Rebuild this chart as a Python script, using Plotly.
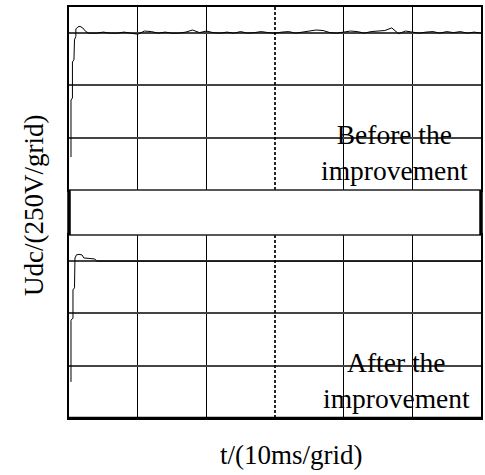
import plotly.graph_objects as go

# ---- data (time in ms, voltage in grid units of 250 V) ----
top_t = [0.29, 0.29, 0.5, 0.5, 0.72, 0.8, 1.0, 1.0, 1.3, 1.6, 2.0, 2.45, 2.9,
         3, 4, 5, 6, 7, 8, 9, 10, 11, 12, 13, 14, 15, 16, 17, 18, 19, 20, 21, 22,
         23, 24, 25, 26, 27, 28, 29, 30, 31, 32, 33, 34, 35, 36, 37, 38, 39, 40,
         41, 42, 43, 44, 45, 46, 47, 48, 49, 50, 51, 52, 53, 54, 55, 56, 57, 58, 59, 60]
top_v = [0.63, 1.72, 1.76, 2.45, 2.49, 2.87, 2.94, 3.08, 3.12, 3.13, 3.10, 3.03, 3.00,
         3.00, 3.00, 3.02, 3.00, 3.00, 3.02, 3.00, 2.98, 3.04, 3.03, 3.00, 3.02, 3.00, 3.00, 3.02, 3.06, 3.01, 3.04, 3.01, 3.00,
         3.02, 3.00, 3.03, 3.00, 3.01, 3.03, 3.01, 3.00, 3.02, 3.03, 3.00, 3.02, 3.04, 3.06, 3.05, 3.01, 3.00, 3.02,
         3.04, 3.03, 3.00, 3.03, 3.04, 3.05, 3.10, 2.99, 3.04, 3.02, 3.00, 3.02, 3.03, 3.00, 3.03, 3.01, 3.03, 3.00, 3.02, 3.00]

bot_t = [0.29, 0.29, 0.58, 0.58, 0.8, 0.87, 1.09, 1.45, 1.88, 2.17, 3.04, 3.77, 4.06, 60]
bot_v = [0.69, 1.87, 1.91, 2.45, 2.49, 3.06, 3.12, 3.13, 3.12, 3.06, 3.05, 3.04, 3.00, 3.00]

t_grid = [10, 20, 40, 50]
v_grid = [1, 2, 3]
cursor_t = 30
t_range = [0, 60]
v_range = [0, 3.5]

label_top = "Before the<br>improvement"
label_bot = "After the<br>improvement"
x_title = "t/(10ms/grid)"
y_title = "Udc/(250V/grid)"

FONT = "Liberation Serif, Times New Roman, serif"

fig = go.Figure()
fig.add_trace(go.Scatter(x=top_t, y=top_v, mode="lines", xaxis="x", yaxis="y2",
                         line=dict(color="black", width=1), showlegend=False, hoverinfo="skip"))
fig.add_trace(go.Scatter(x=bot_t, y=bot_v, mode="lines", xaxis="x2", yaxis="y",
                         line=dict(color="black", width=1), showlegend=False, hoverinfo="skip"))

top_dom = [0.5547, 1.0]
bot_dom = [0.0, 0.4453]

xcommon = dict(range=t_range, tickvals=t_grid, showticklabels=False, ticks="",
               showgrid=True, gridcolor="black", gridwidth=1, zeroline=False,
               showline=True, linecolor="black", linewidth=1.5, mirror=True, fixedrange=True)
ycommon = dict(range=v_range, tickvals=v_grid, showticklabels=False, ticks="",
               showgrid=True, gridcolor="#444", gridwidth=1.5, zeroline=False,
               showline=True, linecolor="black", linewidth=1.5, mirror=True, fixedrange=True)

fig.update_layout(
    width=485, height=475,
    margin=dict(l=69, r=2, t=7, b=57),
    paper_bgcolor="white", plot_bgcolor="white",
    xaxis=dict(**xcommon, anchor="y2"),
    xaxis2=dict(**xcommon, anchor="y"),
    yaxis=dict(**ycommon, domain=bot_dom, anchor="x2"),
    yaxis2=dict(**ycommon, domain=top_dom, anchor="x"),
)

# dashed cursor line at 30 ms in both panels
for xr, yr in (("x", "y2"), ("x2", "y")):
    fig.add_shape(type="line", xref=xr, yref=yr, x0=cursor_t, x1=cursor_t, y0=v_range[0], y1=v_range[1],
                  line=dict(color="black", width=1.7, dash="3px,2px"))

# middle separating rectangle
fig.add_shape(type="rect", xref="paper", yref="paper", x0=0, x1=1, y0=bot_dom[1], y1=top_dom[0],
              line=dict(color="#222", width=1.5), fillcolor="white")
for xe in (0, 1):
    fig.add_shape(type="line", xref="paper", yref="paper", x0=xe, x1=xe, y0=bot_dom[1], y1=top_dom[0],
                  line=dict(color="black", width=3.5))
fig.add_shape(type="line", xref="paper", yref="paper", x0=0, x1=1, y0=0, y1=0,
              line=dict(color="black", width=2.5))

fig.add_annotation(text=label_top, xref="paper", yref="paper", x=0.79, y=0.647,
                   xanchor="center", yanchor="middle", showarrow=False,
                   font=dict(family=FONT, size=27.5, color="black"))
fig.add_annotation(text=label_bot, xref="paper", yref="paper", x=0.795, y=0.092,
                   xanchor="center", yanchor="middle", showarrow=False,
                   font=dict(family=FONT, size=27.5, color="black"))
fig.add_annotation(text=x_title, xref="paper", yref="paper", x=0.54, y=-0.09,
                   xanchor="center", yanchor="middle", showarrow=False,
                   font=dict(family=FONT, size=27, color="black"))
fig.add_annotation(text=y_title, xref="paper", yref="paper", x=-0.085, y=0.518,
                   xanchor="center", yanchor="middle", showarrow=False, textangle=-90,
                   font=dict(family=FONT, size=27, color="black"))

fig.write_html("out.html", config={"displayModeBar": False},
               post_script="document.body.style.margin='0';document.body.style.overflow='hidden';")
